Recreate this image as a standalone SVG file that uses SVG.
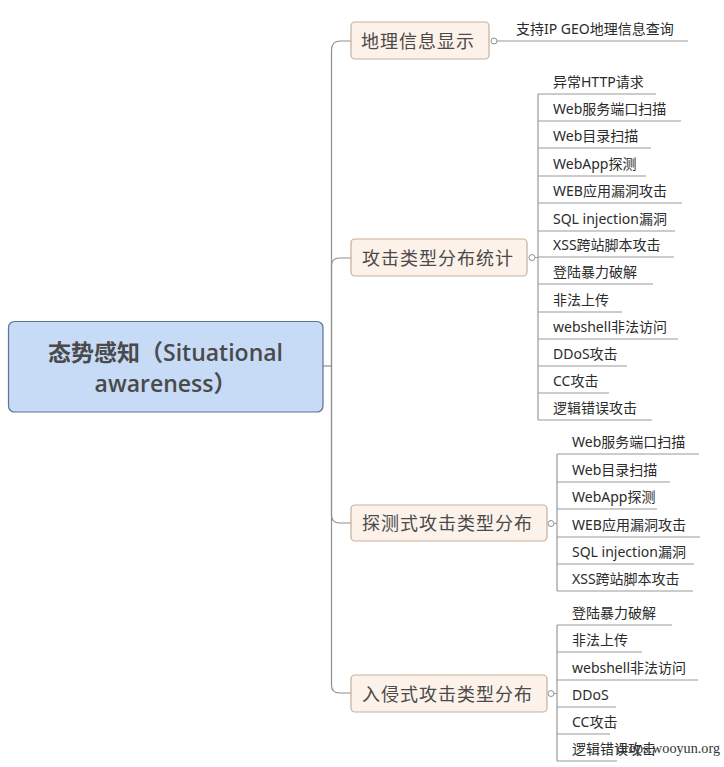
<svg xmlns="http://www.w3.org/2000/svg" width="724" height="767" viewBox="0 0 724 767">
<style>
.root{fill:#c7daf6;stroke:#5d7393;stroke-width:1.2}
.rt{font-family:"Open Sans","Noto Sans CJK SC",sans-serif;font-size:23px;font-weight:600;fill:#4a4a4a;text-anchor:middle}
.br{fill:#fdf2e9;stroke:#c4b09e;stroke-width:1.2}
.bt{font-family:"Noto Sans CJK SC","Noto Sans",sans-serif;font-size:18px;fill:#4a4a4a;letter-spacing:1px}
.lt{font-family:"Noto Sans","Noto Sans CJK SC",sans-serif;font-size:14px;fill:#2b2b2b}
.c{fill:none;stroke:#8f8f8f;stroke-width:1.2}
.u{fill:none;stroke:#9a9a9a;stroke-width:1.2}
.k{fill:#fff;stroke:#8f8f8f;stroke-width:1}
.wm{font-family:"Liberation Serif",serif;font-size:14px;fill:#333}
</style>
<rect width="724" height="767" fill="#fff"/>
<g id="connectors">
<path class="c" d="M323,366 H331.5"/>
<path class="c" d="M331.5,366 V50 Q331.5,41 340.5,41 H351"/>
<path class="c" d="M331.5,366 V266 Q331.5,258 339.5,258 H351"/>
<path class="c" d="M331.5,366 V515 Q331.5,523 339.5,523 H351"/>
<path class="c" d="M331.5,366 V685 Q331.5,693 339.5,693 H351"/>
<path class="u" d="M497,41 H688"/>
<path class="u" d="M535,257.5 H538 M538,94 V420"/>
<path class="u" d="M538,94 H656 M538,121 H681 M538,148 H651 M538,176 H646 M538,203 H682 M538,231 H675 M538,257 H674 M538,284 H653 M538,312 H622 M538,339 H678 M538,366 H627 M538,393 H609 M538,420 H652"/>
<path class="u" d="M554,523.5 H557 M557,454 V591"/>
<path class="u" d="M557,454 H699 M557,482 H670 M557,509 H657 M557,537 H700 M557,564 H694 M557,591 H693"/>
<path class="u" d="M554,693.5 H557 M557,625 V761"/>
<path class="u" d="M557,625 H672 M557,652 H642 M557,680 H698 M557,707 H616 M557,734 H610 M557,761 H617"/>
<circle class="k" cx="494" cy="41" r="3"/>
<circle class="k" cx="532" cy="257.5" r="3"/>
<circle class="k" cx="551" cy="523.5" r="3"/>
<circle class="k" cx="551" cy="693.5" r="3"/>
</g>
<g id="root">
<rect class="root" x="8.5" y="321.5" width="314.5" height="90.5" rx="6"/>
<text class="rt" x="165.5" y="361">态势感知（Situational</text>
<text class="rt" x="165.5" y="392">awareness）</text>
</g>
<g id="b1">
<rect class="br" x="351" y="22" width="138" height="37" rx="4"/>
<text class="bt" x="361" y="48">地理信息显示</text>
</g>
<g id="b1-leaves">
<text class="lt" x="516" y="34">支持IP GEO地理信息查询</text>
</g>
<g id="b2">
<rect class="br" x="351" y="239" width="176" height="37" rx="4"/>
<text class="bt" x="362" y="265">攻击类型分布统计</text>
</g>
<g id="b2-leaves">
<text class="lt" x="553" y="87">异常HTTP请求</text>
<text class="lt" x="553" y="114">Web服务端口扫描</text>
<text class="lt" x="553" y="141">Web目录扫描</text>
<text class="lt" x="553" y="169">WebApp探测</text>
<text class="lt" x="553" y="196">WEB应用漏洞攻击</text>
<text class="lt" x="553" y="224">SQL injection漏洞</text>
<text class="lt" x="553" y="250">XSS跨站脚本攻击</text>
<text class="lt" x="553" y="277">登陆暴力破解</text>
<text class="lt" x="553" y="305">非法上传</text>
<text class="lt" x="553" y="332">webshell非法访问</text>
<text class="lt" x="553" y="359">DDoS攻击</text>
<text class="lt" x="553" y="386">CC攻击</text>
<text class="lt" x="553" y="413">逻辑错误攻击</text>
</g>
<g id="b3">
<rect class="br" x="351" y="505" width="196" height="36" rx="4"/>
<text class="bt" x="362" y="530">探测式攻击类型分布</text>
</g>
<g id="b3-leaves">
<text class="lt" x="572" y="447">Web服务端口扫描</text>
<text class="lt" x="572" y="475">Web目录扫描</text>
<text class="lt" x="572" y="502">WebApp探测</text>
<text class="lt" x="572" y="530">WEB应用漏洞攻击</text>
<text class="lt" x="572" y="557">SQL injection漏洞</text>
<text class="lt" x="572" y="584">XSS跨站脚本攻击</text>
</g>
<g id="b4">
<rect class="br" x="351" y="675" width="196" height="37" rx="4"/>
<text class="bt" x="362" y="701">入侵式攻击类型分布</text>
</g>
<g id="b4-leaves">
<text class="lt" x="572" y="618">登陆暴力破解</text>
<text class="lt" x="572" y="645">非法上传</text>
<text class="lt" x="572" y="673">webshell非法访问</text>
<text class="lt" x="572" y="700">DDoS</text>
<text class="lt" x="572" y="727">CC攻击</text>
<text class="lt" x="572" y="754">逻辑错误攻击</text>
</g>
<text class="wm" x="617" y="753" textLength="103" lengthAdjust="spacingAndGlyphs">drops.wooyun.org</text>
</svg>
